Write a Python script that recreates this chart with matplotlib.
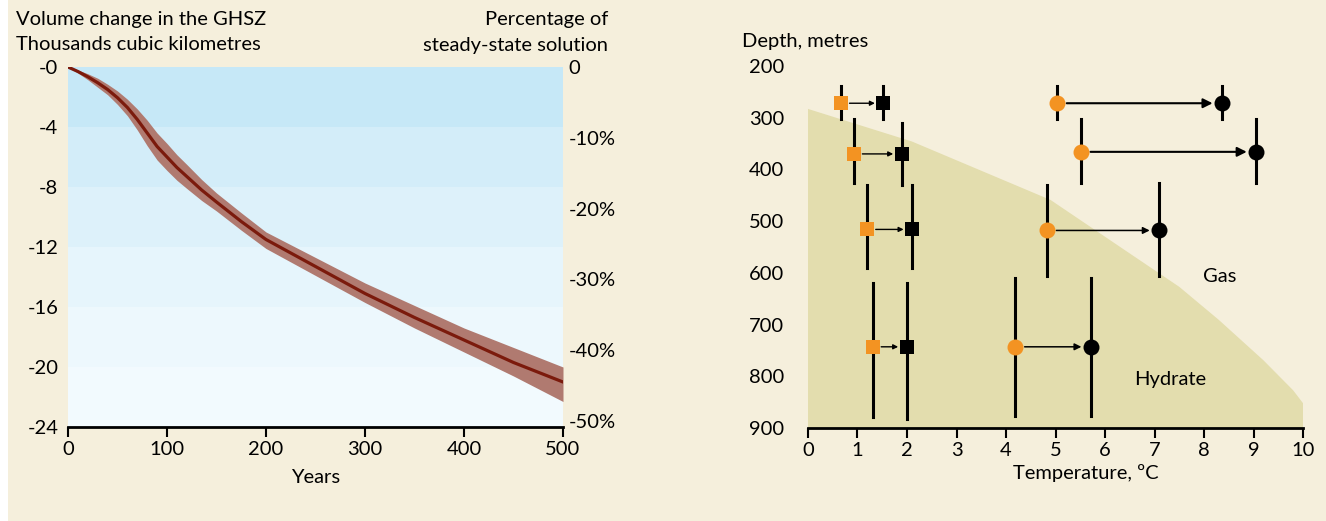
import matplotlib.pyplot as plt
from matplotlib.patches import Rectangle
from matplotlib import rcParams

rcParams['font.family'] = ['Lato', 'DejaVu Sans']
rcParams['font.size'] = 14.5

CREAM = '#F5EFDC'
HYDRATE = '#E3DDAE'
ORANGE = '#F39322'

# left panel: volume change of the GHSZ
years = [0, 10, 20, 30, 40, 50, 60, 70, 80, 90, 100, 110, 120, 135, 150, 175,
         200, 250, 300, 350, 400, 450, 500]
vol_mid = [0, 0.3, 0.65, 1.05, 1.5, 2.05, 2.7, 3.5, 4.4, 5.3, 6.0, 6.7, 7.3, 8.2, 9.0, 10.3,
           11.5, 13.3, 15.1, 16.7, 18.2, 19.7, 21.0]
vol_hi = [0, 0.2, 0.45, 0.75, 1.15, 1.6, 2.15, 2.8, 3.55, 4.4, 5.1, 5.85, 6.5, 7.5, 8.4, 9.72,
          11.0, 12.7, 14.4, 15.9, 17.4, 18.7, 20.0]
vol_lo = [0, 0.4, 0.85, 1.35, 1.85, 2.5, 3.25, 4.2, 5.25, 6.2, 6.9, 7.55, 8.1, 8.9, 9.6, 10.88,
          12.1, 13.9, 15.7, 17.4, 19.0, 20.6, 22.3]
band_edges = [0, -4, -8, -12, -16, -20, -24]
band_colors = ['#C6E8F7', '#D3EDF9', '#DDF1FA', '#E6F5FC', '#EDF8FD', '#F2FAFE']
vol_ticks = [0, -4, -8, -12, -16, -20, -24]
vol_labels = ['-0', '-4', '-8', '-12', '-16', '-20', '-24']
pct_ticks = [0, -10, -20, -30, -40, -50]
pct_labels = ['0', '-10%', '-20%', '-30%', '-40%', '-50%']

# right panel: temperature shift at depth
phase_temp = [0, 2.1, 4.9, 6.4, 7.5, 8.3, 9.2, 9.8, 10, 10, 0]
phase_depth = [283, 346, 459, 556, 627, 691, 769, 827, 852, 900, 900]

sq_depth = [272, 370, 516, 743]
sq_before = [0.67, 0.93, 1.20, 1.31]
sq_after = [1.52, 1.89, 2.10, 1.99]
sq_bar_before = [(238, 303), (303, 426), (431, 591), (619, 878)]
sq_bar_after = [(238, 303), (310, 430), (431, 591), (619, 882)]

ci_depth = [272, 366, 518, 743]
ci_before = [5.03, 5.51, 4.82, 4.18]
ci_after = [8.37, 9.06, 7.10, 5.72]
ci_bar_before = [(238, 303), (303, 426), (431, 607), (609, 876)]
ci_bar_after = [(238, 303), (303, 426), (427, 607), (609, 876)]

fig = plt.figure(figsize=(13.26, 5.21), dpi=100, facecolor=CREAM)
fig.patches.append(Rectangle((0, 0), 8 / 1326, 1, transform=fig.transFigure,
                             facecolor='white', edgecolor='none', zorder=0))

# ---- left chart
ax = fig.add_axes([68 / 1326, 94 / 521, 495 / 1326, 360 / 521])
for i in range(len(band_colors)):
    ax.axhspan(band_edges[i + 1], band_edges[i], color=band_colors[i], lw=0, zorder=0)
ax.fill_between(years, [-v for v in vol_hi], [-v for v in vol_lo], color='#B07A70', lw=0, zorder=2)
ax.plot(years, [-v for v in vol_mid], color='#7B1A0C', lw=2.3, zorder=3)
ax.set_xlim(0, 500)
ax.set_ylim(-24, 0)
ax.set_xticks([0, 100, 200, 300, 400, 500])
ax.set_yticks(vol_ticks)
ax.set_yticklabels(vol_labels)
for s in ['top', 'right', 'left']:
    ax.spines[s].set_visible(False)
ax.spines['bottom'].set_linewidth(2)
ax.tick_params(axis='x', length=7, width=1.5, pad=3)
ax.tick_params(axis='y', length=0, pad=7)
ax.set_xlabel('Years', labelpad=8)
ax.patch.set_visible(False)

ax2 = ax.twinx()
ax2.set_ylim(-50.85, 0)
ax2.set_yticks(pct_ticks)
ax2.set_yticklabels(pct_labels)
ax2.tick_params(axis='y', length=0, pad=4)
for s in ax2.spines.values():
    s.set_visible(False)

fig.text(16 / 1326, 1 - 20 / 521, 'Volume change in the GHSZ', ha='left', va='center')
fig.text(16 / 1326, 1 - 45 / 521, 'Thousands cubic kilometres', ha='left', va='center')
fig.text(608 / 1326, 1 - 20 / 521, 'Percentage of', ha='right', va='center')
fig.text(608 / 1326, 1 - 45 / 521, 'steady-state solution', ha='right', va='center')

# ---- right chart
bx = fig.add_axes([808 / 1326, 93 / 521, 495 / 1326, 362 / 521])
bx.set_facecolor(CREAM)
bx.fill(phase_temp, phase_depth, color=HYDRATE, lw=0, zorder=0)
bx.set_xlim(0, 10)
bx.set_ylim(900, 200)
bx.set_xticks(range(0, 11))
bx.set_yticks(range(200, 1000, 100))
for s in ['top', 'right', 'left']:
    bx.spines[s].set_visible(False)
bx.spines['bottom'].set_linewidth(2)
bx.tick_params(axis='x', length=7, width=1.5, pad=3)
bx.tick_params(axis='y', length=0, pad=17)

for i in range(len(sq_depth)):
    bx.plot([sq_before[i]] * 2, sq_bar_before[i], color='black', lw=2.2, zorder=2)
    bx.plot([sq_after[i]] * 2, sq_bar_after[i], color='black', lw=2.2, zorder=2)
    bx.annotate('', xy=(sq_after[i], sq_depth[i]), xytext=(sq_before[i], sq_depth[i]),
                arrowprops=dict(arrowstyle='-|>', color='black', lw=1.0, mutation_scale=7,
                                shrinkA=6, shrinkB=6), zorder=3)
    bx.plot(sq_before[i], sq_depth[i], 's', color=ORANGE, ms=9.5, mew=0, zorder=4)
    bx.plot(sq_after[i], sq_depth[i], 's', color='black', ms=9.5, mew=0, zorder=4)

for i in range(len(ci_depth)):
    bx.plot([ci_before[i]] * 2, ci_bar_before[i], color='black', lw=2.2, zorder=2)
    bx.plot([ci_after[i]] * 2, ci_bar_after[i], color='black', lw=2.2, zorder=2)
    bx.annotate('', xy=(ci_after[i], ci_depth[i]), xytext=(ci_before[i], ci_depth[i]),
                arrowprops=dict(arrowstyle='-|>', color='black', lw=1.5 if i < 2 else 1.1,
                                mutation_scale=14 if i < 2 else 10,
                                shrinkA=7, shrinkB=7), zorder=3)
    bx.plot(ci_before[i], ci_depth[i], 'o', color=ORANGE, ms=11.5, mew=0, zorder=4)
    bx.plot(ci_after[i], ci_depth[i], 'o', color='black', ms=11.5, mew=0, zorder=4)

bx.text(8.32, 608, 'Gas', ha='center', va='center')
bx.text(7.31, 807, 'Hydrate', ha='center', va='center')
bx.set_xlabel('Temperature, ºC')
bx.xaxis.set_label_coords((1086 - 808) / 495, -0.10)
fig.text(742 / 1326, 1 - 42 / 521, 'Depth, metres', ha='left', va='center')

fig.savefig('out.png', dpi=100, facecolor=CREAM)
